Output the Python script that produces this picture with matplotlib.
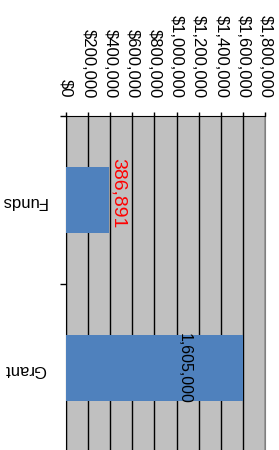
import numpy as np
import matplotlib
matplotlib.use("Agg")
import matplotlib.pyplot as plt
from matplotlib.ticker import FuncFormatter, MultipleLocator

# Chart data
categories = ["Funds", "Grant"]
values = [386891, 1605000]
value_labels = ["386,891", "1,605,000"]
x_max = 1800000
x_step = 200000

plt.rcParams['font.family'] = ['Liberation Sans', 'DejaVu Sans']

fig = plt.figure(figsize=(2.79, 4.50), dpi=100)
ax = fig.add_axes([66 / 279, 1 - 452 / 450, 199 / 279, 336 / 450])
ax.set_facecolor('#C0C0C0')

ypos = np.arange(len(categories))
ax.barh(ypos, values, height=0.39, color='#4F81BD', zorder=3)

ax.set_xlim(0, x_max)
ax.set_ylim(len(categories) - 0.5, -0.5)

# vertical gridlines
ax.xaxis.set_major_locator(MultipleLocator(x_step))
ax.grid(axis='x', color='black', linewidth=1.0, zorder=1)
ax.set_axisbelow(True)

# value axis on top, labels rotated
ax.xaxis.tick_top()
ax.xaxis.set_major_formatter(FuncFormatter(lambda v, p: f"${v:,.0f}"))
ax.tick_params(axis='x', which='major', direction='out', length=3, width=1,
               pad=10, labelsize=12, rotation=-90)

# category axis: labels upside down, ticks at the boundaries
ax.set_yticks(ypos)
ax.set_yticklabels(categories, rotation=180, fontsize=12)
ax.tick_params(axis='y', which='major', length=0, pad=14)
ax.set_yticks(np.arange(len(categories) + 1) - 0.5, minor=True)
ax.tick_params(axis='y', which='minor', length=4, width=1, direction='out')

ax.spines['bottom'].set_visible(False)
ax.spines['right'].set_color('#808080')
ax.spines['top'].set_color('black')
ax.spines['left'].set_color('black')

# data labels
ax.text(values[0] + 12000, ypos[0] - 0.04, value_labels[0], rotation=-90,
        color='red', fontsize=14, ha='left', va='center', zorder=4)
ax.text(values[1] * 0.665, ypos[1], value_labels[1], rotation=-90,
        color='black', fontsize=11.5, ha='center', va='center', zorder=4)

fig.savefig("out.png", dpi=100, facecolor='white')
